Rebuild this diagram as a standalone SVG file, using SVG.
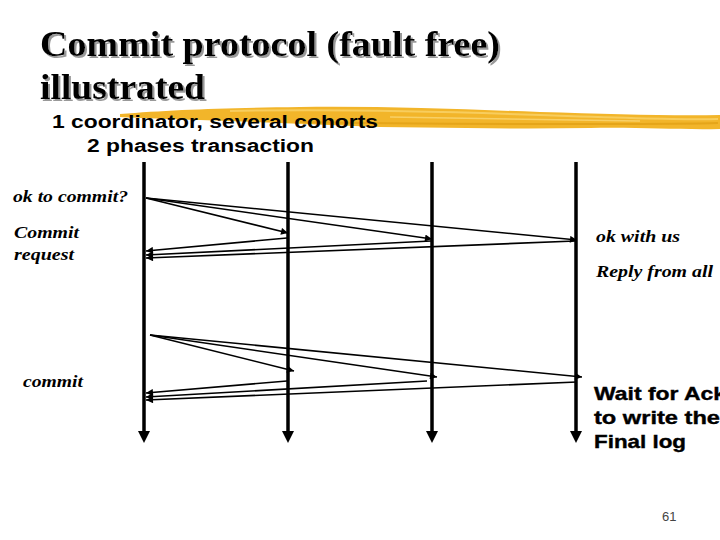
<svg xmlns="http://www.w3.org/2000/svg" width="720" height="540" viewBox="0 0 720 540">
<style>
.title{font-family:"Liberation Serif","Times New Roman",serif;font-weight:bold;font-size:36px;fill:#000;filter:url(#shadow);}
.sub{font-family:"Liberation Sans",Arial,sans-serif;font-weight:bold;font-size:18px;fill:#000;}
.lbl{font-family:"Liberation Serif","Times New Roman",serif;font-weight:bold;font-style:italic;font-size:17px;fill:#000;}
.big{font-family:"Liberation Sans",Arial,sans-serif;font-weight:bold;font-size:19px;fill:#000;stroke:#000;stroke-width:0.4;}
.life{stroke:#000;stroke-width:3.5;fill:none;}
.head{fill:#000;stroke:none;}
.msg{stroke:#000;stroke-width:1.6;fill:none;marker-end:url(#arr);}
.num{font-family:"Liberation Sans",Arial,sans-serif;font-size:13px;fill:#444;}
</style>
<defs>
<marker id="arr" viewBox="0 0 10 10" refX="10" refY="5" markerWidth="9" markerHeight="7" markerUnits="userSpaceOnUse" orient="auto">
<path d="M0,0 L10,5 L0,10 Z" fill="#000"/>
</marker>
<filter id="shadow" x="-5%" y="-20%" width="110%" height="150%">
<feDropShadow dx="2" dy="2" stdDeviation="0.4" flood-color="#999" flood-opacity="1"/>
</filter>
</defs>
<rect width="720" height="540" fill="#fff"/>

<g id="brush">
<path d="M120,114 C170,110 220,108 300,107 C380,106 460,109 540,112 C610,114 670,116 720,115 L720,129 C680,130 640,127 590,128 C520,129 450,128 380,127 C320,125 260,122 200,120 C170,119 140,118 120,117 Z" fill="#F2B52A"/>
<path d="M230,111 C330,109 430,111 540,115 C620,118 680,120 718,119" stroke="#F9D36A" stroke-width="2" fill="none" opacity="0.8"/>
<path d="M300,122 C400,124 500,124 600,124 C650,124 690,124 718,123" stroke="#E09E12" stroke-width="2" fill="none" opacity="0.7"/>
<path d="M390,117 C480,118 560,119 640,121" stroke="#FBDB80" stroke-width="1.5" fill="none" opacity="0.7"/>
</g>

<g id="title">
<text class="title" x="40" y="56" textLength="460" lengthAdjust="spacingAndGlyphs">Commit protocol (fault free)</text>
<text class="title" x="40" y="99" textLength="165" lengthAdjust="spacingAndGlyphs">illustrated</text>
</g>

<g id="subtitle">
<text class="sub" x="52" y="128" textLength="326" lengthAdjust="spacingAndGlyphs">1 coordinator, several cohorts</text>
<text class="sub" x="87" y="152" textLength="227" lengthAdjust="spacingAndGlyphs">2 phases transaction</text>
</g>

<g id="coordinator">
<line class="life" x1="144" y1="162" x2="144" y2="433"/>
<path class="head" d="M138,431 L150,431 L144,443 Z"/>
</g>
<g id="cohort1">
<line class="life" x1="288" y1="162" x2="288" y2="433"/>
<path class="head" d="M282,431 L294,431 L288,443 Z"/>
</g>
<g id="cohort2">
<line class="life" x1="432" y1="162" x2="432" y2="433"/>
<path class="head" d="M426,431 L438,431 L432,443 Z"/>
</g>
<g id="cohort3">
<line class="life" x1="576" y1="162" x2="576" y2="433"/>
<path class="head" d="M570,431 L582,431 L576,443 Z"/>
</g>

<g id="connectors">
<line class="msg" x1="146" y1="198" x2="288" y2="233"/>
<line class="msg" x1="146" y1="198" x2="432" y2="239"/>
<line class="msg" x1="146" y1="198" x2="577" y2="240"/>
<line class="msg" x1="287" y1="238" x2="146" y2="251"/>
<line class="msg" x1="431" y1="241" x2="146" y2="255"/>
<line class="msg" x1="575" y1="241" x2="146" y2="258"/>

<line class="msg" x1="150" y1="335" x2="294" y2="371"/>
<line class="msg" x1="150" y1="335" x2="437" y2="377"/>
<line class="msg" x1="150" y1="335" x2="582" y2="377"/>
<line class="msg" x1="287" y1="381" x2="146" y2="393"/>
<line class="msg" x1="427" y1="381" x2="146" y2="397"/>
<line class="msg" x1="577" y1="382" x2="146" y2="400"/>
</g>

<g id="labels">
<text class="lbl" x="13" y="202" textLength="115" lengthAdjust="spacingAndGlyphs">ok to commit?</text>
<text class="lbl" x="14" y="238" textLength="65" lengthAdjust="spacingAndGlyphs">Commit</text>
<text class="lbl" x="14" y="260" textLength="60" lengthAdjust="spacingAndGlyphs">request</text>
<text class="lbl" x="23" y="387" textLength="60" lengthAdjust="spacingAndGlyphs">commit</text>
<text class="lbl" x="596" y="242" textLength="84" lengthAdjust="spacingAndGlyphs">ok with us</text>
<text class="lbl" x="596" y="277" textLength="117" lengthAdjust="spacingAndGlyphs">Reply from all</text>
<text class="big" x="594" y="400" textLength="132" lengthAdjust="spacingAndGlyphs">Wait for Ack</text>
<text class="big" x="594" y="424" textLength="126" lengthAdjust="spacingAndGlyphs">to write the</text>
<text class="big" x="594" y="448" textLength="92" lengthAdjust="spacingAndGlyphs">Final log</text>
<text class="num" x="662" y="521">61</text>
</g>
</svg>
